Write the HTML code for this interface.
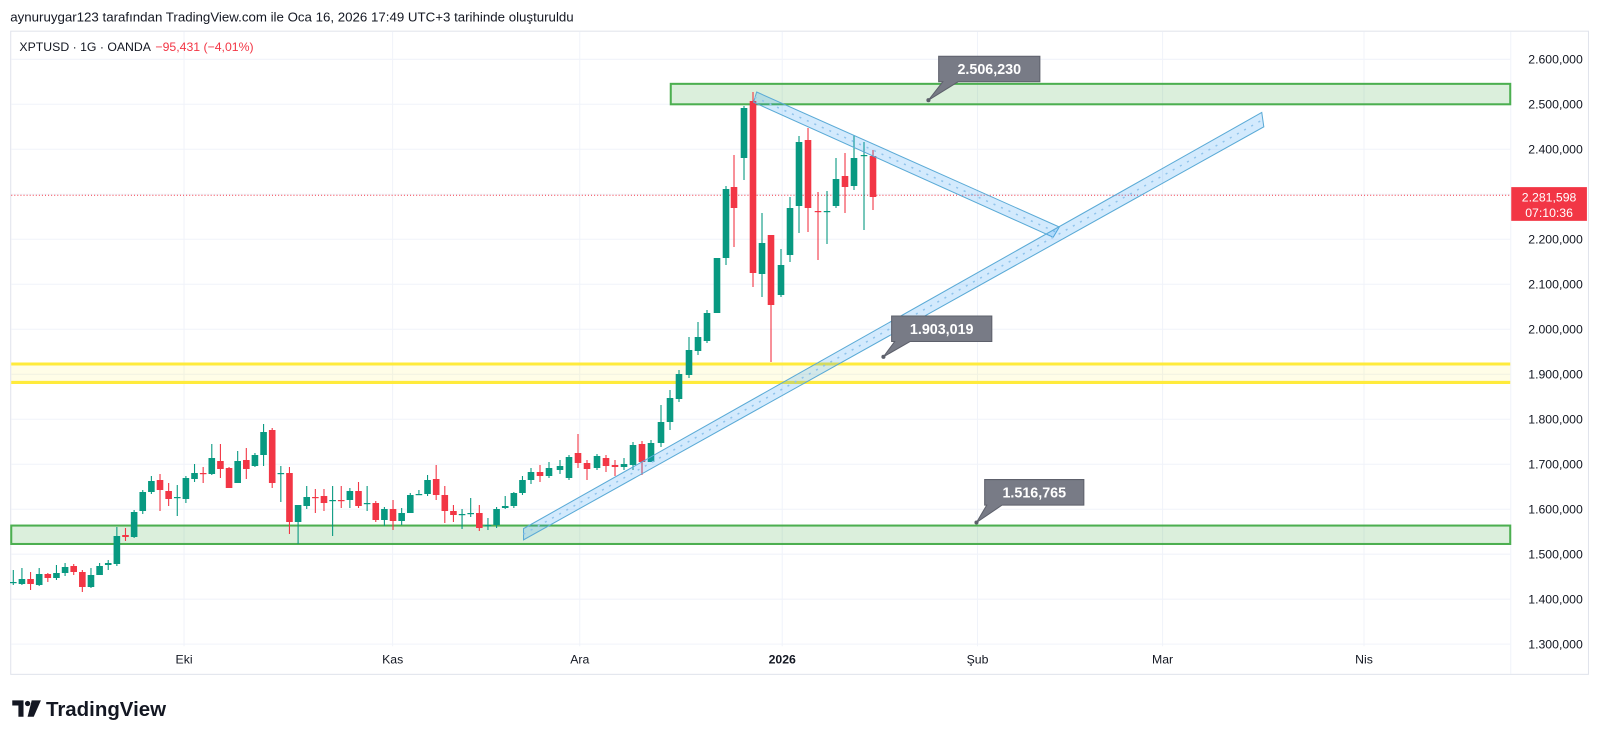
<!DOCTYPE html>
<html><head><meta charset="utf-8"><style>
html,body{margin:0;padding:0;background:#fff;}
svg{display:block;font-family:"Liberation Sans",sans-serif;}
</style></head><body>
<svg width="1600" height="741" viewBox="0 0 1600 741" xmlns="http://www.w3.org/2000/svg">
<rect width="1600" height="741" fill="#fff"/>
<g transform="scale(1.0225)">
<text x="10" y="21" font-size="13" fill="#131722">aynuruygar123 tarafından TradingView.com ile Oca 16, 2026 17:49 UTC+3 tarihinde oluşturuldu</text>
<rect x="10.5" y="30.5" width="1543" height="629" fill="none" stroke="#e0e3eb"/>
<g stroke="#f0f3fa" stroke-width="1">
<line x1="11" x2="1477" y1="58" y2="58"/><line x1="11" x2="1477" y1="102" y2="102"/><line x1="11" x2="1477" y1="146" y2="146"/><line x1="11" x2="1477" y1="190" y2="190"/><line x1="11" x2="1477" y1="234" y2="234"/><line x1="11" x2="1477" y1="278" y2="278"/><line x1="11" x2="1477" y1="322" y2="322"/><line x1="11" x2="1477" y1="366" y2="366"/><line x1="11" x2="1477" y1="410" y2="410"/><line x1="11" x2="1477" y1="454" y2="454"/><line x1="11" x2="1477" y1="498" y2="498"/><line x1="11" x2="1477" y1="542" y2="542"/><line x1="11" x2="1477" y1="586" y2="586"/><line x1="11" x2="1477" y1="630" y2="630"/>
<line x1="180" x2="180" y1="31" y2="632"/><line x1="384" x2="384" y1="31" y2="632"/><line x1="567" x2="567" y1="31" y2="632"/><line x1="765" x2="765" y1="31" y2="632"/><line x1="956" x2="956" y1="31" y2="632"/><line x1="1137" x2="1137" y1="31" y2="632"/><line x1="1334" x2="1334" y1="31" y2="632"/>
</g>
<line x1="1477.5" x2="1477.5" y1="31" y2="659" stroke="#f0f3fa"/>
<text x="19" y="50" font-size="12" fill="#131722">XPTUSD · 1G · OANDA</text>
<text x="152" y="50" font-size="12" fill="#f23645">−95,431 (−4,01%)</text>
<rect x="656" y="82" width="821" height="20" fill="rgba(76,175,80,0.2)" stroke="#4caf50" stroke-width="2"/>
<rect x="11" y="514" width="1466" height="18" fill="rgba(76,175,80,0.2)" stroke="#4caf50" stroke-width="2"/>
<rect x="11" y="356" width="1466" height="18" fill="rgba(255,235,59,0.12)"/>
<line x1="11" x2="1477" y1="356" y2="356" stroke="#ffeb3b" stroke-width="3"/>
<line x1="11" x2="1477" y1="374" y2="374" stroke="#ffeb3b" stroke-width="3"/>
<line x1="11" x2="1477" y1="191" y2="191" stroke="#f23645" stroke-width="1" stroke-dasharray="1,2"/>
<g transform="scale(0.978)" id="c"></g>
<polygon points="740,90 1036,222 1030,232 737,100" fill="rgba(33,150,243,0.2)" stroke="#5aaad6" stroke-width="1"/>
<line x1="738" y1="95" x2="1033" y2="227" stroke="#90c4ec" stroke-width="1.5" stroke-dasharray="2,6"/>
<polygon points="512,517 1234,110 1236,124 512,528" fill="rgba(33,150,243,0.2)" stroke="#5aaad6" stroke-width="1"/>
<line x1="512" y1="522.5" x2="1235" y2="117" stroke="#90c4ec" stroke-width="1.5" stroke-dasharray="2,6"/>
<g font-size="14" font-weight="bold" fill="#fff">
<path d="M918,55 h99 v25 h-80 l-29,18 l14,-18 h-4 z" fill="#787b86" stroke="#5d606b"/>
<text x="967.5" y="72.5" text-anchor="middle">2.506,230</text>
<circle cx="908" cy="98" r="2" fill="#5d606b"/>
<path d="M872,309 h98 v25 h-80 l-26,15 l11,-15 h-3 z" fill="#787b86" stroke="#5d606b"/>
<text x="921" y="326.5" text-anchor="middle">1.903,019</text>
<circle cx="864" cy="349" r="2" fill="#5d606b"/>
<path d="M963,469 h97 v25 h-80 l-25,17 l10,-17 h-2 z" fill="#787b86" stroke="#5d606b"/>
<text x="1011.5" y="486.5" text-anchor="middle">1.516,765</text>
<circle cx="955" cy="511" r="2" fill="#5d606b"/>
</g>
<g font-size="12" fill="#131722" text-anchor="end">
<text x="1548" y="62">2.600,000</text><text x="1548" y="106">2.500,000</text><text x="1548" y="150">2.400,000</text><text x="1548" y="194">2.300,000</text><text x="1548" y="238">2.200,000</text><text x="1548" y="282">2.100,000</text><text x="1548" y="326">2.000,000</text><text x="1548" y="370">1.900,000</text><text x="1548" y="414">1.800,000</text><text x="1548" y="458">1.700,000</text><text x="1548" y="502">1.600,000</text><text x="1548" y="546">1.500,000</text><text x="1548" y="590">1.400,000</text><text x="1548" y="634">1.300,000</text>
</g>
<rect x="1478" y="183" width="74" height="33" fill="#f23645"/>
<text x="1515" y="197" font-size="12" fill="#fff" text-anchor="middle">2.281,598</text>
<text x="1515" y="212" font-size="12" fill="#fff" text-anchor="middle">07:10:36</text>
<g font-size="12" fill="#131722" text-anchor="middle">
<text x="180" y="649">Eki</text><text x="384" y="649">Kas</text><text x="567" y="649">Ara</text><text x="765" y="649" font-weight="bold">2026</text><text x="956" y="649">Şub</text><text x="1137" y="649">Mar</text><text x="1334" y="649">Nis</text>
</g>
<g fill="#131722">
<path d="M12,685 h11 v16 h-5 v-11 h-6 z"/>
<circle cx="27" cy="688" r="2.6"/>
<path d="M31,685 h9 l-7,16 h-6 z"/>
</g>
<text x="45" y="700" font-size="20" font-weight="bold" fill="#131722">TradingView</text>
</g>
</svg>
<script>
var d=[
[583,582,570,585],[584,579,568,585],[579,584,572,590],[585,574,568,586],[574,578,573,582],[578,573,565,580],[573,567,563,576],[566,572,564,575],[572,587,570,592],[587,575,568,588],
[575,566,563,572],[565,563,560,570],[564,536,527,566],[535,537,528,541],[537,512,510,538],[511,492,490,514],[492,481,476,494],[480,490,474,511],[491,499,483,506],[498,497,485,516],
[499,478,476,503],[479,473,464,482],[473,474,467,483],[474,458,444,475],[461,469,444,478],[468,488,467,488],[483,461,451,483],[460,469,448,479],[466,455,453,467],[455,432,424,466],
[430,483,428,488],[474,473,466,502],[473,522,467,534],[522,505,505,544],[506,497,486,509],[497,498,489,513],[496,503,489,511],[501,500,486,536],[500,501,486,508],[500,491,488,508],
[491,506,482,508],[504,503,486,511],[503,520,501,522],[520,509,507,526],[509,521,500,530],[521,513,508,525],[513,495,493,513],[495,494,490,495],[494,480,475,496],[479,495,465,500],
[495,511,486,523],[511,515,505,522],[515,514,509,529],[514,513,498,517],[513,528,505,531],[526,525,518,530],[525,509,507,528],[508,506,496,509],[506,493,492,508],[493,480,476,495]];
var x=[];for(var i=0;i<60;i++)x.push(13.3+i*8.63);
var b=[[531,480,472,468,484],[540,472,476,465,482],[549,476,468,462,478],[560,470,466,460,474]];
b.forEach(function(r){x.push(r[0]);d.push(r.slice(1));});
var z=[[569,478,457,455,480],[578,453,463,434,468],[587,463,469,460,480],[597,468,456,454,470],[606,458,466,455,472],[615,465,467,460,476],[624,467,464,458,470],[633,465,445,442,470],[642,444,462,441,475],[651,462,443,440,462],
[661,443,422,405,447],[670,422,398,390,430],[679,399,374,370,402],[689,375,350,337,378],[698,351,337,322,355],[707,341,313,310,343],[717,313,258,258,313],[726,258,189,186,265],[734,187,208,155,247],[744,158,108,106,180],
[753,101,273,92,287],[762,274,243,213,297],[771,235,305,235,362],[781,295,265,249,297],[790,255,208,197,262],[799,206,142,136,233],[808,140,208,128,232],[818,211,212,192,260],[827,212,211,191,244],[836,206,179,158,208],
[845,176,187,153,213],[854,186,158,135,190],[864,155,155,142,230],[873,156,197,150,210]];
z.forEach(function(r){x.push(r[0]);d.push(r.slice(1));});
var s='';
for(var i=0;i<d.length;i++){var o=d[i][0],c=d[i][1],h=d[i][2],l=d[i][3];var up=c<=o;var col=up?'#089981':'#f23645';
var t=Math.min(o,c),hh=Math.max(Math.abs(o-c),1.2);
s+='<line x1="'+x[i]+'" x2="'+x[i]+'" y1="'+h+'" y2="'+l+'" stroke="'+col+'" stroke-width="1.1"/>';
s+='<rect x="'+(x[i]-3.3)+'" y="'+t+'" width="6.6" height="'+hh+'" fill="'+col+'"/>';}
document.getElementById('c').innerHTML=s;
</script>
</body></html>
